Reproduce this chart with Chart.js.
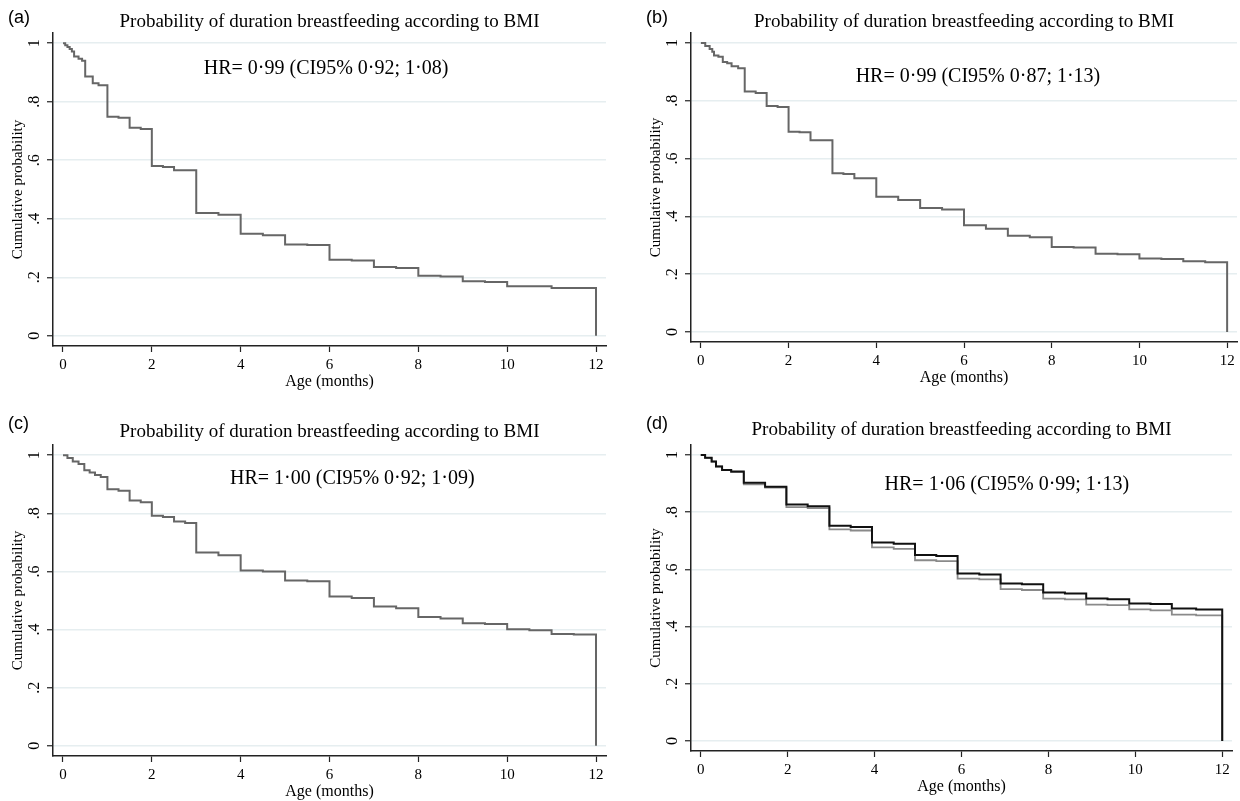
<!DOCTYPE html>
<html>
<head>
<meta charset="utf-8">
<script src="https://cdn.jsdelivr.net/npm/chart.js@4.4.1/dist/chart.umd.min.js"></script>
<style>
  html, body { margin: 0; padding: 0; background: #fff; overflow: hidden; }
  canvas { position: absolute; }
</style>
</head>
<body>
<canvas id="panel-a" width="620" height="392" style="left:0px;top:0px"></canvas>
<canvas id="panel-b" width="602" height="388" style="left:638px;top:0px"></canvas>
<canvas id="panel-c" width="620" height="402" style="left:0px;top:400px"></canvas>
<canvas id="panel-d" width="602" height="397" style="left:638px;top:400px"></canvas>
<script>
const xTicks = [0, 2, 4, 6, 8, 10, 12]
const yTicks = [0, 0.2, 0.4, 0.6, 0.8, 1]
const yTickLabels = ['0', '.2', '.4', '.6', '.8', '1']
const chartTitle = 'Probability of duration breastfeeding according to BMI'
const xTitle = 'Age (months)'
const yTitle = 'Cumulative probability'
const panelLabels = ['(a)', '(b)', '(c)', '(d)']
const hrTexts = [
  'HR= 0·99 (CI95% 0·92; 1·08)',
  'HR= 0·99 (CI95% 0·87; 1·13)',
  'HR= 1·00 (CI95% 0·92; 1·09)',
  'HR= 1·06 (CI95% 0·99; 1·13)'
]

// (a)
const aMonths = [0, 0.05, 0.1, 0.15, 0.2, 0.25, 0.35, 0.43, 0.5, 0.67, 0.8, 1, 1.25, 1.5, 1.75, 2, 2.25, 2.5, 3, 3.5, 4, 4.5, 5, 5.5, 6, 6.5, 7, 7.5, 8, 8.5, 9, 9.5, 10, 11, 12]
const aSurv = [1, 0.993, 0.987, 0.98, 0.972, 0.955, 0.947, 0.94, 0.886, 0.863, 0.856, 0.749, 0.745, 0.711, 0.707, 0.580, 0.577, 0.566, 0.420, 0.414, 0.349, 0.344, 0.312, 0.310, 0.260, 0.257, 0.235, 0.232, 0.205, 0.203, 0.186, 0.184, 0.169, 0.163, 0]

// (b)
const bMonths = [0, 0.1, 0.2, 0.26, 0.3, 0.4, 0.5, 0.6, 0.7, 0.85, 1, 1.25, 1.5, 1.75, 2, 2.25, 2.5, 3, 3.25, 3.5, 4, 4.5, 5, 5.5, 6, 6.5, 7, 7.5, 8, 8.5, 9, 9.5, 10, 10.5, 11, 11.5, 12]
const bSurv = [1, 0.99, 0.98, 0.97, 0.957, 0.953, 0.935, 0.93, 0.92, 0.913, 0.832, 0.827, 0.782, 0.779, 0.693, 0.691, 0.664, 0.549, 0.547, 0.532, 0.468, 0.457, 0.429, 0.424, 0.369, 0.357, 0.333, 0.328, 0.294, 0.292, 0.271, 0.269, 0.254, 0.252, 0.245, 0.241, 0]

// (c)
const cMonths = [0, 0.1, 0.22, 0.35, 0.48, 0.6, 0.72, 0.85, 1, 1.25, 1.5, 1.75, 2, 2.25, 2.5, 2.75, 3, 3.5, 4, 4.5, 5, 5.5, 6, 6.5, 7, 7.5, 8, 8.5, 9, 9.5, 10, 10.5, 11, 11.5, 12]
const cSurv = [1, 0.99, 0.978, 0.97, 0.948, 0.94, 0.932, 0.925, 0.883, 0.878, 0.844, 0.838, 0.792, 0.787, 0.772, 0.767, 0.665, 0.656, 0.603, 0.600, 0.569, 0.566, 0.514, 0.509, 0.479, 0.473, 0.443, 0.438, 0.422, 0.419, 0.401, 0.398, 0.385, 0.383, 0]

// (d) two groups
const dMonths = [0, 0.1, 0.25, 0.35, 0.49, 0.7, 0.99, 1.48, 1.97, 2.46, 2.96, 3.45, 3.94, 4.44, 4.93, 5.42, 5.91, 6.41, 6.9, 7.39, 7.88, 8.38, 8.87, 9.36, 9.86, 10.35, 10.84, 11.4, 12]
const dSurvBlack = [1, 0.99, 0.977, 0.96, 0.948, 0.942, 0.903, 0.889, 0.827, 0.821, 0.753, 0.748, 0.694, 0.690, 0.650, 0.647, 0.586, 0.582, 0.551, 0.548, 0.519, 0.516, 0.498, 0.496, 0.481, 0.479, 0.463, 0.460, 0]
const dSurvGray = [1, 0.99, 0.977, 0.96, 0.948, 0.940, 0.897, 0.886, 0.818, 0.814, 0.740, 0.736, 0.677, 0.672, 0.632, 0.629, 0.568, 0.565, 0.531, 0.528, 0.498, 0.495, 0.477, 0.475, 0.460, 0.457, 0.442, 0.439, 0]

const serif = 'Liberation Serif'
const sans = 'Liberation Sans'

// title, panel letter and HR note
const panelText = {
  id: 'panelText',
  afterDraw(chart, args, opts) {
    const { ctx, chartArea, scales } = chart
    ctx.save()
    ctx.fillStyle = '#000'
    ctx.textBaseline = 'alphabetic'
    ctx.textAlign = 'center'
    ctx.font = '19px "' + serif + '"'
    ctx.fillText(chartTitle, (chartArea.left + chartArea.right) / 2, chartArea.top - opts.titleGap)
    ctx.textAlign = 'left'
    ctx.font = '18px "' + sans + '"'
    ctx.fillText(opts.label, chartArea.left - 45, chartArea.top - opts.labelGap)
    ctx.font = '20px "' + serif + '"'
    ctx.fillText(opts.hr, scales.x.getPixelForValue(opts.hrX), scales.y.getPixelForValue(opts.hrY))
    ctx.restore()
  }
}

function toPoints(months, surv) {
  return months.map((m, i) => ({ x: m, y: surv[i] }))
}

function survivalChart(id, datasets, pad, text) {
  const ctx = document.getElementById(id)

  const config = {
    type: 'line',
    data: { datasets },
    options: {
      responsive: false,
      animation: false,
      devicePixelRatio: 1,
      layout: { padding: { top: pad.top, right: pad.right, left: 0, bottom: 0 } },
      elements: {
        point: { radius: 0 },
        line: { borderJoinStyle: 'miter', tension: 0 }
      },
      plugins: {
        legend: { display: false },
        tooltip: { enabled: false },
        panelText: text
      },
      scales: {
        x: {
          type: 'linear',
          min: -0.225,
          max: 12.225,
          afterBuildTicks: (s) => { s.ticks = xTicks.map(v => ({ value: v })) },
          afterFit: (s) => { s.height = 46 },
          grid: { drawOnChartArea: false, tickLength: 6, tickColor: '#222', tickWidth: 1.2 },
          border: { color: '#222', width: 1.5 },
          ticks: { color: '#000', padding: 4, maxRotation: 0, autoSkip: false, font: { family: serif, size: 15 } },
          title: { display: true, text: xTitle, color: '#000', font: { family: serif, size: 16 }, padding: { top: 0, bottom: 1 } }
        },
        y: {
          type: 'linear',
          min: -0.035,
          max: 1.035,
          afterBuildTicks: (s) => { s.ticks = yTicks.map(v => ({ value: v })) },
          afterFit: (s) => { s.width = 53 },
          grid: { color: '#e6eef0', lineWidth: 1.5, tickLength: 6, tickColor: '#222', tickWidth: 1.2 },
          border: { color: '#222', width: 1.5 },
          ticks: {
            color: '#000',
            padding: 6,
            minRotation: 90,
            maxRotation: 90,
            crossAlign: 'center',
            font: { family: serif, size: 16 },
            callback: (v) => yTickLabels[yTicks.indexOf(v)]
          },
          title: { display: true, text: yTitle, color: '#000', font: { family: serif, size: 15 }, padding: { top: 9, bottom: 0 } }
        }
      }
    },
    plugins: [panelText]
  }

  new Chart(ctx, config)
}

function line(points, color, width) {
  return { data: points, stepped: true, borderColor: color, backgroundColor: color, borderWidth: width, fill: false }
}

survivalChart('panel-a', [line(toPoints(aMonths, aSurv), '#666666', 2)],
  { top: 33, right: 14 },
  { label: panelLabels[0], hr: hrTexts[0], hrX: 3.17, hrY: 0.894, titleGap: 6, labelGap: 10 })

survivalChart('panel-b', [line(toPoints(bMonths, bSurv), '#666666', 2)],
  { top: 33, right: 3 },
  { label: panelLabels[1], hr: hrTexts[1], hrX: 3.53, hrY: 0.865, titleGap: 6, labelGap: 10 })

survivalChart('panel-c', [line(toPoints(cMonths, cSurv), '#666666', 2)],
  { top: 45, right: 14 },
  { label: panelLabels[2], hr: hrTexts[2], hrX: 3.76, hrY: 0.90, titleGap: 8, labelGap: 16 })

survivalChart('panel-d', [
    line(toPoints(dMonths, dSurvBlack), '#111111', 2),
    line(toPoints(dMonths, dSurvGray), '#8a8a8a', 1.8)
  ],
  { top: 45, right: 8 },
  { label: panelLabels[3], hr: hrTexts[3], hrX: 4.23, hrY: 0.878, titleGap: 10, labelGap: 16 })
</script>
</body>
</html>
